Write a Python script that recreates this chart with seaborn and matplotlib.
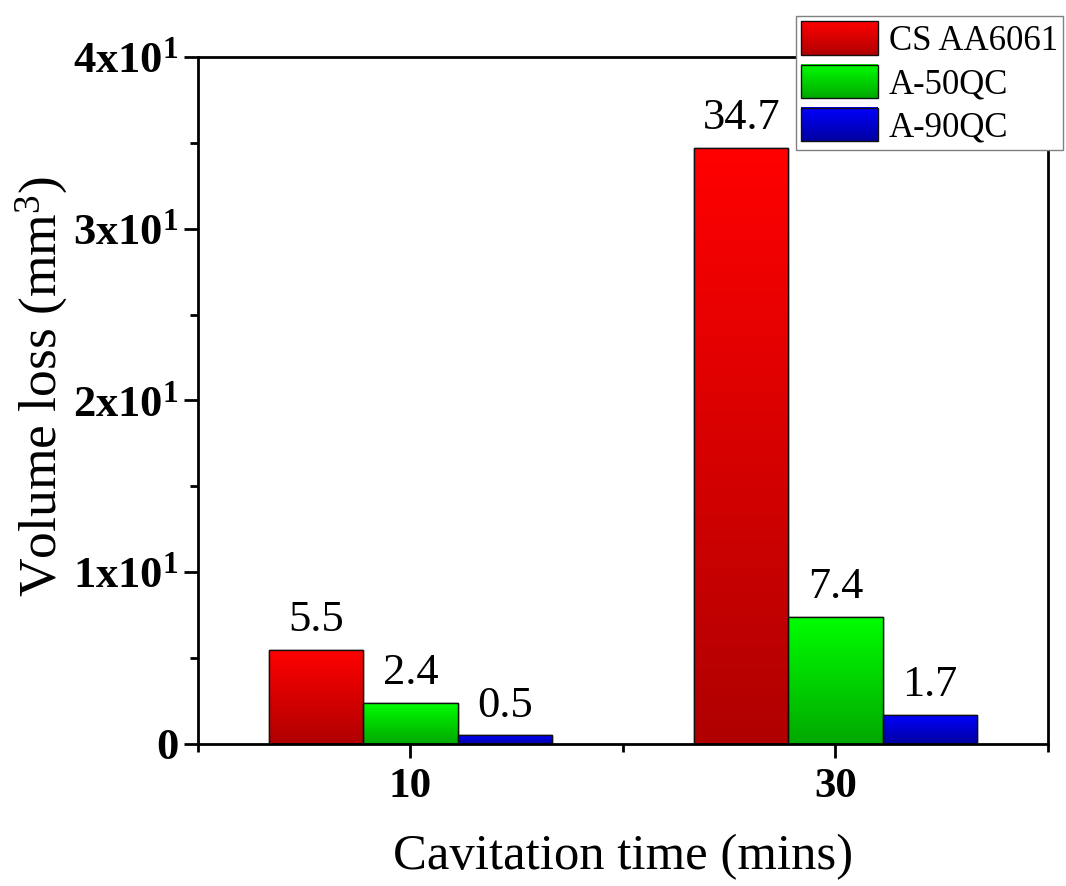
import numpy as np
import pandas as pd
import matplotlib
matplotlib.use("Agg")
import matplotlib.pyplot as plt
import seaborn as sns
from matplotlib.patches import Rectangle
from matplotlib.image import BboxImage
from matplotlib.transforms import Bbox, TransformedBbox
from matplotlib.ticker import FixedLocator, FuncFormatter, MultipleLocator

# Data
times = ["10", "30"]
series = ["CS AA6061", "A-50QC", "A-90QC"]
cs_aa6061 = [5.5, 34.7]
a_50qc = [2.4, 7.4]
a_90qc = [0.5, 1.7]

# gradient colours: (top, bottom) for each series
grad_top = ["#ff0000", "#00ff00", "#0000ff"]
grad_bottom = ["#b00000", "#00a800", "#0000a0"]

df = pd.DataFrame({
    "time": times * 3,
    "series": [series[0]] * 2 + [series[1]] * 2 + [series[2]] * 2,
    "loss": cs_aa6061 + a_50qc + a_90qc,
})

sns.set_theme(style="ticks")
plt.rcParams.update({
    "font.family": ["Liberation Serif", "DejaVu Serif"],
    "mathtext.fontset": "custom",
    "mathtext.rm": "Liberation Serif",
    "mathtext.bf": "Liberation Serif:bold",
    "mathtext.it": "Liberation Serif:italic",
    "axes.linewidth": 2.0,
    "text.color": "black",
    "axes.labelcolor": "black",
    "xtick.color": "black",
    "ytick.color": "black",
    "axes.edgecolor": "black",
})

fig = plt.figure(figsize=(10.66, 8.86), dpi=100)
ax = fig.add_axes([0.1857, 0.1603, 0.9831 - 0.1857, 0.9357 - 0.1603])

sns.barplot(data=df, x="time", y="loss", hue="series", order=times,
            hue_order=series, palette=grad_top, width=0.665, gap=0,
            edgecolor="#111111", linewidth=1.0, saturation=1, ax=ax,
            legend=False)


def gradient_array(top, bottom, n=256):
    t = np.array(matplotlib.colors.to_rgb(top))
    b = np.array(matplotlib.colors.to_rgb(bottom))
    f = np.linspace(0, 1, n)[:, None]
    return (t[None, :] * (1 - f) + b[None, :] * f)[:, None, :]


for k, cont in enumerate(ax.containers):
    img_data = gradient_array(grad_top[k], grad_bottom[k])
    for bar in cont:
        x0, y0 = bar.get_x(), bar.get_y()
        w, h = bar.get_width(), bar.get_height()
        im = ax.imshow(img_data, extent=[x0, x0 + w, y0, y0 + h],
                       origin="upper", aspect="auto", interpolation="bilinear",
                       zorder=bar.get_zorder() + 0.1)
        im.set_clip_path(bar)
        edge = Rectangle((x0, y0), w, h, facecolor="none",
                         edgecolor="#111111", linewidth=1.0,
                         zorder=bar.get_zorder() + 0.2)
        ax.add_patch(edge)
    ax.bar_label(cont, labels=[f"{v:.1f}" for v in cont.datavalues],
                 padding=7, fontsize=32, color="black")

ax.set_xlim(-0.5, 1.5)
ax.set_ylim(0, 40)

# y axis ticks
ax.yaxis.set_major_locator(MultipleLocator(10))
ax.yaxis.set_minor_locator(MultipleLocator(5))


def sci_fmt(v, pos):
    if abs(v) < 1e-9:
        return r"$\mathbf{0}$"
    return r"$\mathbf{%dx10^{1}}$" % int(round(v / 10))


ax.yaxis.set_major_formatter(FuncFormatter(sci_fmt))
ax.xaxis.set_minor_locator(FixedLocator([-0.5, 0.5, 1.5]))

ax.tick_params(axis="both", which="major", direction="out", length=10,
               width=2, color="black", labelsize=32, pad=7)
ax.tick_params(axis="y", which="major", pad=4)
ax.tick_params(axis="both", which="minor", direction="out", length=6,
               width=2, color="black")
ax.tick_params(top=False, right=False, which="both")
for lbl in ax.get_xticklabels():
    lbl.set_fontweight("bold")
    lbl.set_fontsize(31)

for s in ax.spines.values():
    s.set_visible(True)
    s.set_linewidth(2.0)
    s.set_color("black")

ax.set_xlabel("Cavitation time (mins)", fontsize=36.5, labelpad=20)
ax.set_ylabel("Volume loss (mm$^{3}$)", fontsize=38.5)
ax.yaxis.set_label_coords(-0.15, 0.52)


class GradientHandler:
    def __init__(self, top, bottom):
        self.data = gradient_array(top, bottom)

    def legend_artist(self, legend, orig_handle, fontsize, handlebox):
        x0, y0 = -handlebox.xdescent, -handlebox.ydescent
        w, h = handlebox.width, handlebox.height
        tr = handlebox.get_transform()
        bb = TransformedBbox(Bbox.from_bounds(x0, y0, w, h), tr)
        img = BboxImage(bb, interpolation="bilinear", origin="upper")
        img.set_data(self.data)
        handlebox.add_artist(img)
        rect = Rectangle((x0, y0), w, h, facecolor="none",
                         edgecolor="#111111", linewidth=1.0, transform=tr)
        handlebox.add_artist(rect)
        return rect


handles = [Rectangle((0, 0), 1, 1, label=s) for s in series]
handler_map = {h: GradientHandler(grad_top[i], grad_bottom[i])
               for i, h in enumerate(handles)}
leg = fig.legend(handles=handles, labels=series, handler_map=handler_map,
                 loc="upper left", bbox_to_anchor=(796 / 1066, 1 - 16 / 886),
                 fontsize=25, frameon=True, fancybox=False, framealpha=1,
                 edgecolor="#808080", handlelength=2.2, handleheight=1.1,
                 handletextpad=0.33, labelspacing=0.2, borderpad=0.15,
                 borderaxespad=0)
leg.get_frame().set_linewidth(1.0)
leg.set_zorder(10)

fig.savefig("out.png", dpi=100)
